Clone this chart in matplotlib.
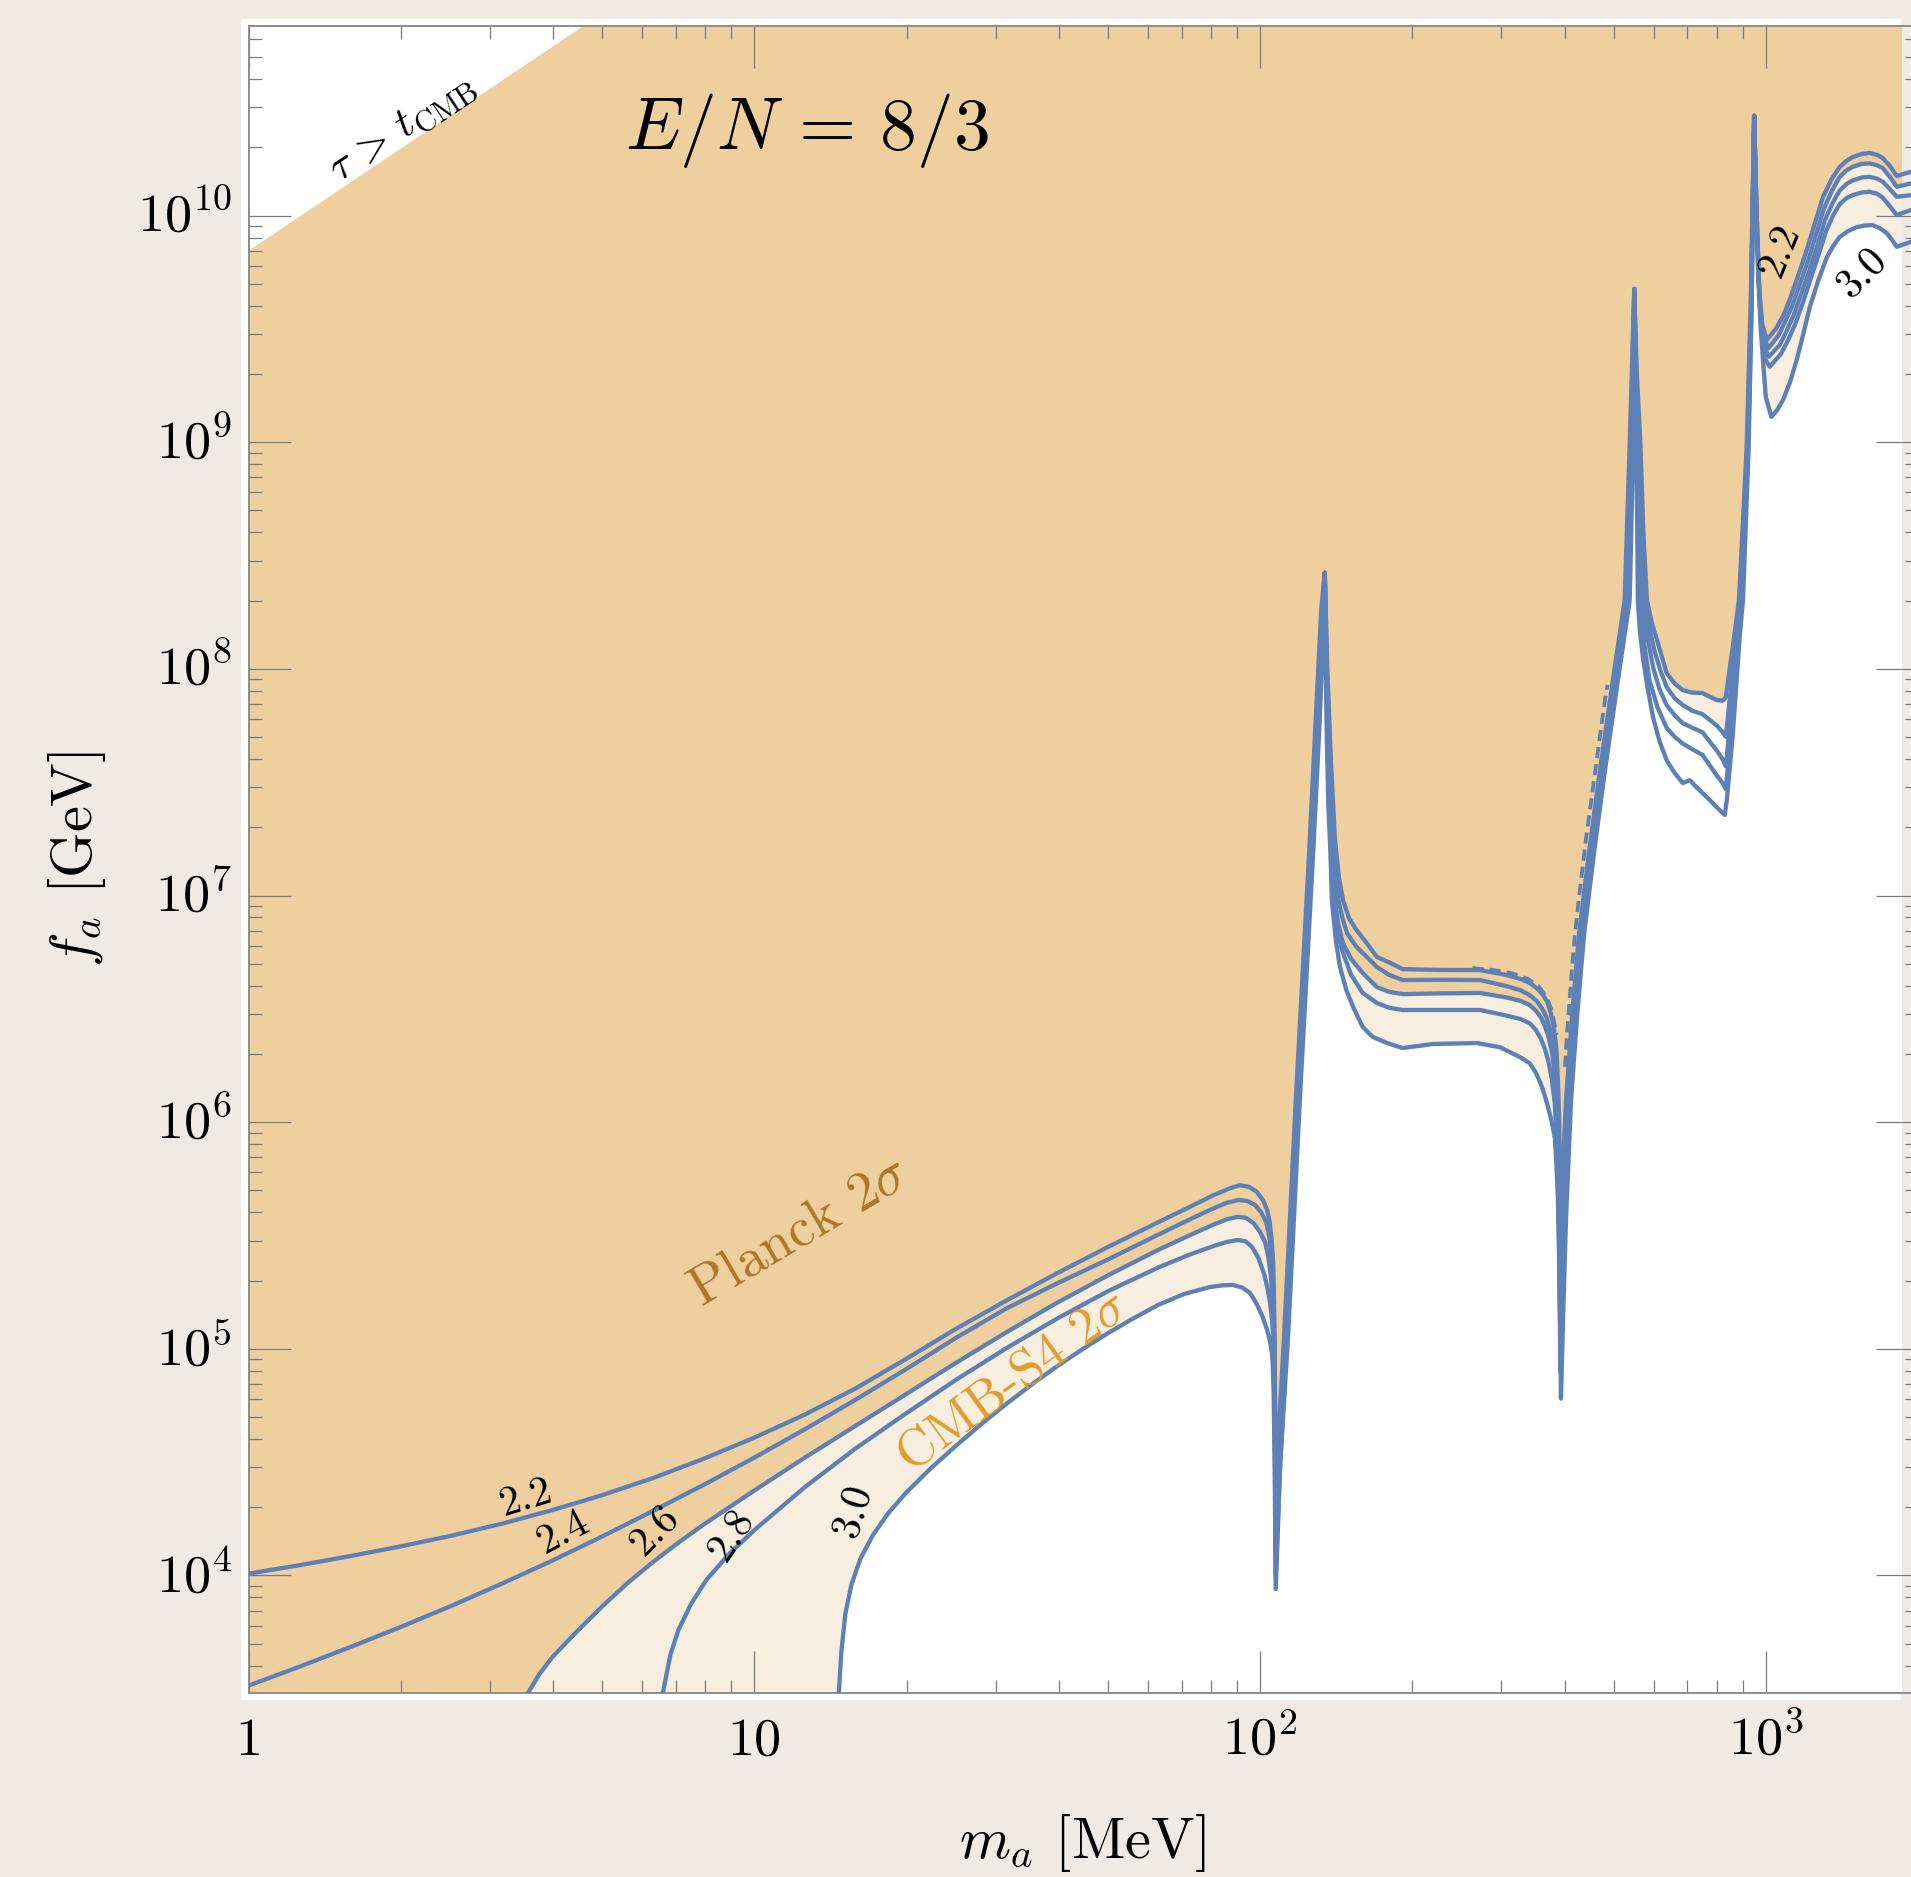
import numpy as np
import matplotlib.pyplot as plt
from matplotlib.patches import Rectangle
from matplotlib.transforms import offset_copy
from matplotlib.ticker import LogLocator, NullFormatter

plt.rcParams['mathtext.fontset'] = 'cm'
plt.rcParams['font.family'] = 'serif'
plt.rcParams['font.serif'] = ['cmr10']
plt.rcParams['axes.formatter.use_mathtext'] = True

# N_eff contours as (log10 m_a [MeV], log10 f_a [GeV])
c22 = [
    (0.000, 4.008), (0.100, 4.045), (0.200, 4.085), (0.300, 4.128), (0.400, 4.175),
    (0.500, 4.228), (0.600, 4.288), (0.700, 4.355), (0.800, 4.430), (0.900, 4.515),
    (1.000, 4.608), (1.100, 4.710), (1.200, 4.825), (1.300, 4.955), (1.400, 5.090),
    (1.500, 5.215), (1.600, 5.335), (1.700, 5.450), (1.800, 5.560), (1.860, 5.625),
    (1.910, 5.680), (1.940, 5.708), (1.960, 5.722), (1.978, 5.715), (1.994, 5.692),
    (2.006, 5.655), (2.014, 5.613), (2.019, 5.560), (2.023, 5.480), (2.026, 5.380),
    (2.027, 5.291), (2.028, 5.150), (2.029, 4.995), (2.030, 4.700), (2.031, 4.300),
    (2.036, 4.600), (2.047, 5.036), (2.059, 5.570), (2.071, 6.111), (2.084, 6.650),
    (2.097, 7.187), (2.109, 7.726), (2.121, 8.264), (2.128, 8.424),
    (2.133, 8.000), (2.140, 7.600), (2.148, 7.250), (2.156, 7.080), (2.164, 6.980),
    (2.176, 6.900), (2.190, 6.850), (2.211, 6.790), (2.231, 6.729), (2.260, 6.700),
    (2.282, 6.675), (2.350, 6.672), (2.435, 6.671), (2.488, 6.649), (2.515, 6.632),
    (2.533, 6.614), (2.548, 6.590), (2.560, 6.560), (2.568, 6.530), (2.575, 6.480),
    (2.581, 6.420), (2.586, 6.320), (2.589, 6.180), (2.591, 6.050), (2.593, 5.800),
    (2.594, 5.300),
    (2.596, 5.573), (2.600, 5.850), (2.605, 6.098), (2.617, 6.470), (2.631, 6.834),
    (2.651, 7.200), (2.673, 7.567), (2.697, 7.940), (2.721, 8.303), (2.731, 9.000),
    (2.740, 9.676),
    (2.745, 9.300), (2.752, 9.000), (2.758, 8.600), (2.765, 8.303), (2.775, 8.200),
    (2.785, 8.127), (2.795, 8.050), (2.804, 7.981), (2.820, 7.935), (2.836, 7.906),
    (2.855, 7.895), (2.875, 7.893), (2.903, 7.862), (2.915, 7.860), (2.921, 7.875),
    (2.928, 7.990), (2.935, 8.100), (2.947, 8.303), (2.962, 8.965), (2.970, 9.600),
    (2.977, 10.440),
    (2.981, 10.000), (2.986, 9.700), (2.993, 9.520), (3.002, 9.451), (3.020, 9.500),
    (3.035, 9.560), (3.047, 9.627), (3.064, 9.735), (3.081, 9.848), (3.097, 9.965),
    (3.113, 10.081), (3.130, 10.160), (3.146, 10.214), (3.160, 10.242), (3.172, 10.258),
    (3.190, 10.272), (3.205, 10.276), (3.220, 10.268), (3.231, 10.254), (3.245, 10.220),
    (3.259, 10.175), (3.287, 10.193), (3.301, 10.190)]

c24 = [
    (0.000, 3.514), (0.100, 3.597), (0.200, 3.683), (0.300, 3.772), (0.400, 3.865),
    (0.500, 3.963), (0.600, 4.065), (0.700, 4.173), (0.800, 4.285), (0.900, 4.400),
    (1.000, 4.520), (1.100, 4.645), (1.200, 4.775), (1.300, 4.910), (1.400, 5.050),
    (1.500, 5.180), (1.600, 5.290), (1.700, 5.395), (1.800, 5.505), (1.860, 5.570),
    (1.910, 5.622), (1.935, 5.645), (1.958, 5.657), (1.975, 5.652), (1.990, 5.635),
    (2.002, 5.603), (2.012, 5.560), (2.018, 5.500), (2.022, 5.420), (2.025, 5.320),
    (2.027, 5.200), (2.028, 5.080), (2.029, 4.900), (2.030, 4.600), (2.031, 4.200),
    (2.037, 4.550), (2.049, 5.036), (2.061, 5.570), (2.073, 6.111), (2.086, 6.650),
    (2.099, 7.187), (2.111, 7.726), (2.123, 8.264), (2.128, 8.424),
    (2.132, 8.000), (2.138, 7.650), (2.144, 7.350), (2.149, 7.120), (2.155, 6.980),
    (2.163, 6.900), (2.172, 6.834), (2.190, 6.775), (2.211, 6.729), (2.231, 6.685),
    (2.255, 6.650), (2.282, 6.627), (2.350, 6.628), (2.435, 6.627), (2.488, 6.600),
    (2.515, 6.582), (2.533, 6.561), (2.547, 6.535), (2.558, 6.500), (2.566, 6.465),
    (2.572, 6.420), (2.579, 6.360), (2.584, 6.280), (2.588, 6.150), (2.590, 6.000),
    (2.592, 5.700), (2.594, 5.150),
    (2.597, 5.500), (2.601, 5.820), (2.607, 6.098), (2.619, 6.470), (2.633, 6.834),
    (2.653, 7.200), (2.675, 7.567), (2.699, 7.940), (2.724, 8.303), (2.733, 9.000),
    (2.740, 9.676),
    (2.744, 9.300), (2.750, 9.000), (2.755, 8.600), (2.761, 8.303), (2.770, 8.180),
    (2.780, 8.080), (2.792, 7.990), (2.804, 7.920), (2.820, 7.870), (2.836, 7.840),
    (2.855, 7.815), (2.875, 7.800), (2.903, 7.750), (2.915, 7.720), (2.921, 7.700),
    (2.928, 7.850), (2.935, 8.000), (2.948, 8.303), (2.963, 8.965), (2.971, 9.600),
    (2.977, 10.440),
    (2.981, 10.000), (2.987, 9.650), (2.995, 9.470), (3.005, 9.414), (3.025, 9.470),
    (3.038, 9.530), (3.052, 9.600), (3.068, 9.700), (3.085, 9.810), (3.100, 9.920),
    (3.115, 10.030), (3.131, 10.110), (3.146, 10.170), (3.160, 10.200), (3.172, 10.215),
    (3.190, 10.228), (3.205, 10.230), (3.220, 10.222), (3.231, 10.210), (3.245, 10.172),
    (3.259, 10.127), (3.287, 10.142), (3.301, 10.140)]

c26 = [
    (0.540, 3.300), (0.552, 3.480), (0.575, 3.565), (0.600, 3.638), (0.650, 3.755),
    (0.700, 3.865), (0.750, 3.968), (0.800, 4.060), (0.850, 4.145), (0.900, 4.225),
    (1.000, 4.375), (1.100, 4.520), (1.200, 4.660), (1.300, 4.800), (1.400, 4.940),
    (1.500, 5.075), (1.600, 5.205), (1.700, 5.325), (1.800, 5.438), (1.860, 5.500),
    (1.910, 5.550), (1.935, 5.572), (1.956, 5.582), (1.972, 5.578), (1.987, 5.555),
    (2.000, 5.515), (2.010, 5.470), (2.016, 5.410), (2.021, 5.330), (2.024, 5.250),
    (2.026, 5.150), (2.028, 5.000), (2.029, 4.800), (2.030, 4.500), (2.031, 4.100),
    (2.038, 4.500), (2.051, 5.036), (2.063, 5.570), (2.075, 6.111), (2.088, 6.650),
    (2.101, 7.187), (2.113, 7.726), (2.125, 8.264), (2.128, 8.424),
    (2.131, 8.000), (2.136, 7.650), (2.141, 7.300), (2.145, 7.100), (2.148, 6.980),
    (2.155, 6.870), (2.164, 6.790), (2.180, 6.720), (2.203, 6.658), (2.231, 6.596),
    (2.255, 6.575), (2.282, 6.565), (2.350, 6.568), (2.435, 6.570), (2.488, 6.550),
    (2.515, 6.535), (2.533, 6.517), (2.546, 6.490), (2.556, 6.460), (2.564, 6.420),
    (2.571, 6.370), (2.578, 6.300), (2.583, 6.200), (2.587, 6.050), (2.589, 5.900),
    (2.591, 5.600), (2.594, 5.000),
    (2.598, 5.420), (2.603, 5.790), (2.610, 6.098), (2.622, 6.470), (2.636, 6.834),
    (2.656, 7.200), (2.678, 7.567), (2.702, 7.940), (2.726, 8.303), (2.735, 9.000),
    (2.740, 9.676),
    (2.743, 9.300), (2.748, 9.000), (2.752, 8.600), (2.757, 8.303), (2.766, 8.140),
    (2.778, 8.000), (2.790, 7.910), (2.804, 7.840), (2.820, 7.795), (2.836, 7.760),
    (2.855, 7.740), (2.875, 7.720), (2.903, 7.640), (2.915, 7.600), (2.921, 7.570),
    (2.928, 7.730), (2.936, 7.900), (2.950, 8.303), (2.964, 8.965), (2.971, 9.600),
    (2.977, 10.440),
    (2.982, 10.000), (2.988, 9.600), (2.997, 9.420), (3.006, 9.377), (3.028, 9.430),
    (3.041, 9.490), (3.055, 9.560), (3.071, 9.660), (3.088, 9.770), (3.103, 9.875),
    (3.117, 9.980), (3.132, 10.055), (3.146, 10.110), (3.160, 10.140), (3.172, 10.155),
    (3.190, 10.168), (3.205, 10.171), (3.220, 10.163), (3.231, 10.150), (3.245, 10.118),
    (3.259, 10.083), (3.287, 10.090), (3.301, 10.090)]

c28 = [
    (0.805, 3.300), (0.819, 3.480), (0.834, 3.650), (0.850, 3.760), (0.875, 3.875),
    (0.905, 3.980), (0.950, 4.095), (1.000, 4.200), (1.100, 4.390), (1.200, 4.560),
    (1.300, 4.715), (1.400, 4.865), (1.500, 5.005), (1.600, 5.135), (1.700, 5.255),
    (1.800, 5.360), (1.860, 5.415), (1.910, 5.455), (1.935, 5.472), (1.956, 5.480),
    (1.971, 5.475), (1.984, 5.450), (1.997, 5.400), (2.008, 5.330), (2.015, 5.265),
    (2.020, 5.200), (2.024, 5.120), (2.026, 5.050), (2.028, 4.900), (2.029, 4.700),
    (2.030, 4.400), (2.031, 4.000),
    (2.039, 4.450), (2.053, 5.036), (2.065, 5.570), (2.077, 6.111), (2.090, 6.650),
    (2.103, 7.187), (2.115, 7.726), (2.126, 8.264), (2.128, 8.424),
    (2.131, 8.000), (2.135, 7.650), (2.139, 7.300), (2.142, 7.100), (2.144, 6.980),
    (2.152, 6.850), (2.162, 6.760), (2.180, 6.650), (2.203, 6.570), (2.231, 6.526),
    (2.255, 6.505), (2.282, 6.495), (2.350, 6.495), (2.435, 6.495), (2.488, 6.470),
    (2.515, 6.455), (2.533, 6.437), (2.545, 6.408), (2.555, 6.370), (2.563, 6.325),
    (2.570, 6.270), (2.577, 6.190), (2.583, 6.080), (2.586, 5.950), (2.589, 5.800),
    (2.591, 5.500), (2.594, 4.900),
    (2.599, 5.350), (2.604, 5.750), (2.612, 6.098), (2.624, 6.470), (2.638, 6.834),
    (2.658, 7.200), (2.680, 7.567), (2.704, 7.940), (2.728, 8.303), (2.736, 9.000),
    (2.740, 9.676),
    (2.742, 9.300), (2.746, 9.000), (2.749, 8.600), (2.752, 8.303), (2.760, 8.110),
    (2.770, 7.950), (2.786, 7.830), (2.804, 7.740), (2.820, 7.700), (2.836, 7.670),
    (2.855, 7.645), (2.875, 7.620), (2.903, 7.530), (2.915, 7.495), (2.921, 7.470),
    (2.929, 7.660), (2.937, 7.850), (2.952, 8.303), (2.965, 8.965), (2.972, 9.600),
    (2.977, 10.440),
    (2.982, 10.000), (2.989, 9.550), (2.998, 9.370), (3.008, 9.333), (3.030, 9.390),
    (3.044, 9.450), (3.058, 9.520), (3.074, 9.620), (3.090, 9.730), (3.105, 9.830),
    (3.119, 9.930), (3.133, 10.000), (3.146, 10.050), (3.160, 10.078), (3.172, 10.090),
    (3.190, 10.102), (3.205, 10.105), (3.220, 10.096), (3.231, 10.080), (3.245, 10.042),
    (3.259, 10.002), (3.287, 10.024), (3.301, 10.020)]

c30 = [
    (1.160, 3.300), (1.167, 3.480), (1.172, 3.660), (1.180, 3.830), (1.192, 3.960),
    (1.210, 4.075), (1.235, 4.180), (1.265, 4.275), (1.300, 4.365), (1.350, 4.475),
    (1.400, 4.575), (1.450, 4.670), (1.500, 4.760), (1.550, 4.845), (1.600, 4.925),
    (1.650, 5.000), (1.700, 5.070), (1.750, 5.135), (1.800, 5.195), (1.850, 5.242),
    (1.900, 5.272), (1.925, 5.280), (1.946, 5.282), (1.965, 5.270), (1.980, 5.247),
    (1.993, 5.200), (2.005, 5.141), (2.013, 5.090), (2.019, 5.040), (2.023, 4.990),
    (2.025, 4.940), (2.027, 4.800), (2.029, 4.450), (2.031, 3.940),
    (2.040, 4.500), (2.055, 5.036), (2.067, 5.570), (2.079, 6.111), (2.092, 6.650),
    (2.105, 7.187), (2.117, 7.726), (2.127, 8.264), (2.128, 8.424),
    (2.130, 8.000), (2.132, 7.700), (2.135, 7.400), (2.139, 7.200), (2.142, 6.980),
    (2.150, 6.800), (2.158, 6.685), (2.171, 6.580), (2.184, 6.508), (2.203, 6.420),
    (2.223, 6.376), (2.250, 6.350), (2.282, 6.327), (2.342, 6.345), (2.429, 6.349),
    (2.474, 6.331), (2.514, 6.287), (2.533, 6.260), (2.545, 6.220), (2.555, 6.170),
    (2.562, 6.125), (2.569, 6.070), (2.576, 6.010), (2.583, 5.930), (2.586, 5.820),
    (2.589, 5.660), (2.591, 5.450), (2.593, 5.200), (2.595, 4.780),
    (2.600, 5.200), (2.605, 5.573), (2.615, 6.098), (2.627, 6.470), (2.641, 6.834),
    (2.661, 7.200), (2.683, 7.567), (2.707, 7.940), (2.731, 8.303), (2.738, 9.000),
    (2.740, 9.676),
    (2.742, 9.300), (2.744, 9.000), (2.746, 8.600), (2.747, 8.303), (2.751, 8.170),
    (2.757, 8.052), (2.766, 7.920), (2.777, 7.787), (2.790, 7.680), (2.804, 7.597),
    (2.820, 7.540), (2.836, 7.496), (2.850, 7.509), (2.862, 7.480), (2.875, 7.452),
    (2.890, 7.420), (2.903, 7.390), (2.912, 7.370), (2.919, 7.356), (2.923, 7.421),
    (2.935, 7.717), (2.949, 8.158), (2.955, 8.303), (2.966, 8.965), (2.972, 9.600),
    (2.977, 10.440),
    (2.982, 10.000), (2.990, 9.500), (3.000, 9.200), (3.011, 9.112), (3.022, 9.140),
    (3.034, 9.186), (3.048, 9.265), (3.061, 9.362), (3.074, 9.475), (3.087, 9.596),
    (3.104, 9.715), (3.121, 9.817), (3.134, 9.868), (3.146, 9.905), (3.163, 9.932),
    (3.180, 9.949), (3.196, 9.956), (3.211, 9.958), (3.225, 9.945), (3.239, 9.923),
    (3.249, 9.895), (3.259, 9.862), (3.287, 9.884), (3.301, 9.880)]

contours = [c22, c24, c26, c28, c30]

# stray pieces of the region boundary, drawn dashed
edge_eta = [
    (2.603, 6.244), (2.607, 6.393), (2.612, 6.539), (2.617, 6.685), (2.623, 6.834),
    (2.630, 6.980), (2.638, 7.126), (2.646, 7.276), (2.655, 7.421), (2.664, 7.567),
    (2.673, 7.717), (2.682, 7.862), (2.687, 7.929)]
edge_plateau = [
    (2.420, 6.680), (2.460, 6.672), (2.500, 6.656), (2.530, 6.632), (2.552, 6.597),
    (2.567, 6.550), (2.578, 6.485), (2.586, 6.385)]

# where the fill boundaries switch between contours (eta and eta' peaks)
split_eta = 2.740
split_etap = 2.977

# lifetime line tau = t_CMB
tau_m = [1.0, 10.0]
tau_f = [7.0e9, 2.2e11]

# contour labels: text, log10 m, log10 f, rotation
clabels = [
    ('2.2', 0.549, 4.340, 17), ('2.4', 0.622, 4.193, 28), ('2.6', 0.804, 4.200, 45),
    ('2.8', 0.955, 4.178, 56), ('3.0', 1.197, 4.281, 73),
    ('2.2', 3.028, 9.848, 68), ('3.0', 3.192, 9.745, 45)]

x_ticks = [1, 10, 100, 1000]
x_ticklabels = ['1', '10', '$10^{2}$', '$10^{3}$']
y_ticks = [1e4, 1e5, 1e6, 1e7, 1e8, 1e9, 1e10]
y_ticklabels = ['$10^{%d}$' % k for k in range(4, 11)]

m_lim = (1.0, 2000.0)
f_lim = (3.03e3, 6.84e10)
floor = 1e2

paper = '#efebe4'
tan = '#f0cf9e'
cream = '#f8eee0'
blue = '#5d81b7'

W, H = 1911, 1877
fig = plt.figure(figsize=(W / 100, H / 100), dpi=100, facecolor=paper)

# white card behind the frame
fig.patches.append(Rectangle((241 / W, 1 - 1700 / H), (1901 - 241) / W, (1700 - 19) / H,
                             transform=fig.transFigure, facecolor='white',
                             edgecolor='none', zorder=-10))

ax = fig.add_axes([248.6 / W, 1 - 1693 / H, (1918 - 248.6) / W, (1693 - 26.3) / H])
ax.patch.set_visible(False)
ax.set_xscale('log')
ax.set_yscale('log')
ax.set_xlim(m_lim)
ax.set_ylim(f_lim)

clip = Rectangle((0, 0), 0.9904, 1, transform=ax.transAxes)


def to_lin(pts):
    a = np.array(pts)
    return 10 ** a[:, 0], 10 ** a[:, 1]


def piece(pts, lo, hi):
    return [p for p in pts if lo < p[0] <= hi]


# excluded by lifetime: everything below the tau line is shaded first
tm = np.r_[tau_m, m_lim[1]]
tf = np.r_[tau_f, tau_f[-1]]
p = ax.fill_between(tm, floor, tf, color=tan, lw=0, zorder=0.5)
p.set_clip_path(clip)

planck = piece(c26, -9, split_eta) + piece(c22, split_eta, split_etap) + piece(c24, split_etap, 9)
cmbs4 = piece(c30, -9, split_eta) + piece(c24, split_eta, split_etap) + piece(c30, split_etap, 9)

m, f = to_lin(planck)
p = ax.fill_between(m, floor, f, color=cream, lw=0, zorder=0.6)
p.set_clip_path(clip)
m, f = to_lin(cmbs4)
p = ax.fill_between(m, floor, f, color='white', lw=0, zorder=0.7)
p.set_clip_path(clip)

for c in contours:
    m, f = to_lin(c)
    ax.plot(m, f, color=blue, lw=3.1, solid_joinstyle='round', zorder=3)

for e in (edge_eta, edge_plateau):
    m, f = to_lin(e)
    ax.plot(m, f, color=blue, lw=2.7, dashes=(3, 1.6), zorder=3)

for s, lm, lf, rot in clabels:
    ax.text(10 ** lm, 10 ** lf, s, fontsize=30, rotation=rot, rotation_mode='anchor',
            ha='center', va='center', zorder=4)

ax.text(10 ** 0.305, 10 ** 10.382, r'$\tau\,>\,t_{\rm CMB}$', fontsize=31, rotation=33.7,
        rotation_mode='anchor', ha='center', va='center', zorder=4)
ax.text(10 ** 1.090, 10 ** 5.511, r'Planck 2$\sigma$', fontsize=40, color='#a8792d',
        rotation=30.5, rotation_mode='anchor', ha='center', va='center', zorder=4)
ax.text(10 ** 1.511, 10 ** 4.854, r'CMB-S4 2$\sigma$', fontsize=38, color='#e39c2a',
        rotation=36, rotation_mode='anchor', ha='center', va='center', zorder=4)
ax.text(0.3345, 0.9266, r'$E/N\,=\,8/3$', fontsize=53, transform=ax.transAxes,
        ha='center', va='baseline', zorder=4)

# frame and ticks
for sp in ax.spines.values():
    sp.set_color('#8c8c8c')
    sp.set_linewidth(1.4)
ax.xaxis.set_major_locator(LogLocator(base=10, numticks=20))
ax.yaxis.set_major_locator(LogLocator(base=10, numticks=20))
ax.xaxis.set_minor_locator(LogLocator(base=10, subs=np.arange(2, 10), numticks=50))
ax.yaxis.set_minor_locator(LogLocator(base=10, subs=np.arange(2, 10), numticks=50))
ax.xaxis.set_minor_formatter(NullFormatter())
ax.yaxis.set_minor_formatter(NullFormatter())
ax.tick_params(which='both', direction='in', top=True, right=True, color='#7a7a7a',
               width=0.9, labelbottom=False, labelleft=False)
ax.tick_params(which='major', length=30)
ax.tick_params(which='minor', length=9.4)

xt = offset_copy(ax.get_xaxis_transform(), fig=fig, y=-62, units='dots')
for v, s in zip(x_ticks, x_ticklabels):
    ax.text(v, 0, s, transform=xt, fontsize=39, ha='center', va='baseline')
yt = offset_copy(ax.get_yaxis_transform(), fig=fig, x=-16.6, y=-16.5, units='dots')
for v, s in zip(y_ticks, y_ticklabels):
    ax.text(0, v, s, transform=yt, fontsize=39, ha='right', va='baseline')

fig.text(1082 / W, 1 - 1858 / H, r'$m_a$ [MeV]', fontsize=42, ha='center', va='baseline')
fig.text(77 / W, 1 - 859 / H, r'$f_a$ [GeV]', fontsize=42, rotation=90,
         ha='center', va='center')

fig.savefig('out.png', dpi=100, facecolor=paper)
